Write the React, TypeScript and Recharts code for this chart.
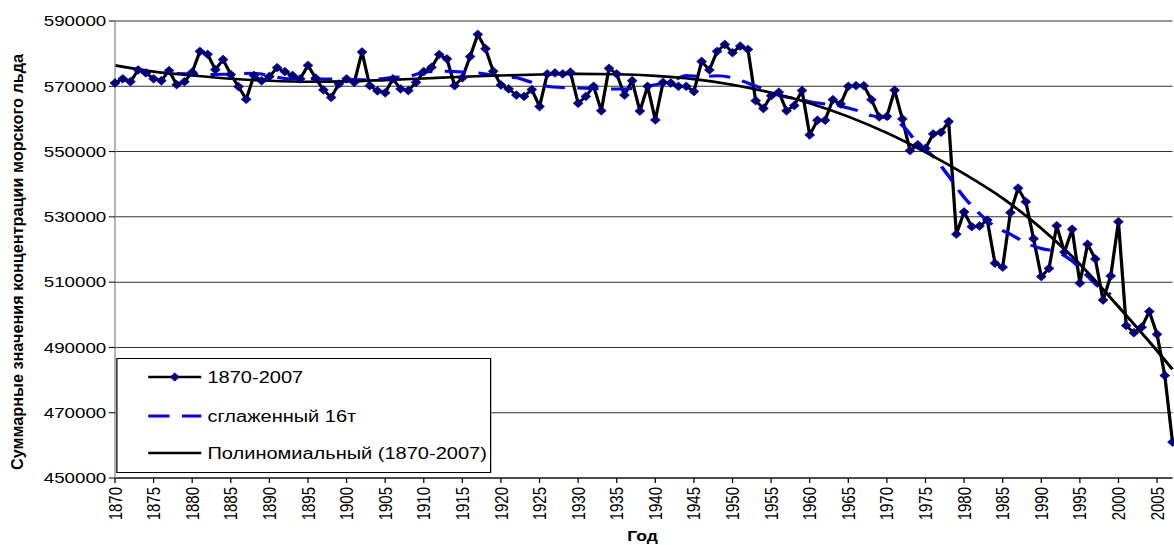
import { LineChart, Line, XAxis, YAxis, CartesianGrid } from "recharts";

// годы 1870–2007
const years: number[] = Array.from({ length: 138 }, (_, i) => 1870 + i);

// суммарные значения концентрации морского льда, 1870-2007
const seaIce: number[] = [
  571000, 572300, 571400, 575000, 574100, 572300, 571700, 574800, 570500, 571400,
  574300, 580700, 579800, 575100, 578200, 573600, 569900, 566000, 573300, 571700,
  573000, 575700, 574500, 573300, 572300, 576400, 572500, 568900, 566600, 570700,
  572300, 571200, 580500, 570200, 568600, 568000, 572300, 569200, 568700, 571200,
  574500, 575800, 579700, 578400, 570200, 572600, 579100, 585900, 581500, 574600,
  570400, 569200, 567300, 566900, 569000, 563800, 573800, 574100, 573800, 574300,
  564800, 566900, 570000, 562500, 575500, 573800, 567300, 571700, 562400, 570000,
  559700, 571200, 571000, 570000, 570000, 568400, 577600, 575000, 580700, 582800,
  580300, 582300, 581300, 565600, 563200, 567100, 568200, 562500, 564100, 568700,
  555100, 559600, 559600, 565900, 564600, 570000, 570200, 570200, 565900, 560600,
  560800, 568800, 560000, 550300, 552100, 551000, 555400, 555900, 559200, 524700,
  531500, 527000, 527200, 529000, 515800, 514600, 531300, 538800, 534600, 523300,
  511700, 514200, 527300, 519200, 526200, 509700, 521600, 517100, 504500, 511900,
  528500, 496700, 494500, 496200, 501000, 494000, 481400, 461000,
];

// сглаженный 16т
const smoothYears: number[] = [
  1878, 1880, 1882, 1884, 1886, 1888, 1890, 1892, 1894, 1896, 1898, 1900, 1902, 1904,
  1906, 1908, 1910, 1912, 1914, 1916, 1918, 1920, 1922, 1924, 1926, 1928, 1930, 1932,
  1934, 1936, 1938, 1940, 1942, 1944, 1946, 1948, 1950, 1952, 1954, 1956, 1958, 1960,
  1962, 1964, 1966, 1968, 1970, 1972, 1974, 1976, 1978, 1980, 1982, 1984, 1986, 1988,
  1990, 1992, 1994, 1996, 1998, 1999,
];
const smoothValues: number[] = [
  573900, 573800, 573600, 573700, 573900, 574000, 573300, 572400, 572200, 572200, 572200, 572100, 572000, 572200,
  572700, 573000, 574300, 574600, 574500, 574300, 573800, 573000, 572600, 571200, 570000, 569600, 569500, 569300,
  569200, 569200, 569600, 570500, 571300, 573300, 573000, 573200, 572600, 571000, 569200, 567200, 566300, 565300,
  564600, 563900, 562700, 561000, 560300, 558000, 552500, 548500, 542500, 536000, 531000, 527000, 524700, 522000,
  520300, 519300, 516500, 511800, 507500, 506200,
];

// Полиномиальный (1870-2007), точки
const trendYears: number[] = [
  1870, 1875, 1880, 1885, 1890, 1895, 1900, 1905, 1910, 1915, 1920, 1925, 1930, 1935,
  1940, 1945, 1950, 1955, 1960, 1965, 1970, 1975, 1980, 1985, 1990, 1995, 2000, 2005, 2007,
];
const trendValues: number[] = [
  576400, 574500, 573300, 572300, 571700, 571400, 571500, 571900, 572400, 572900, 573300, 573600, 573800, 573700,
  573200, 572200, 570500, 568000, 564800, 560700, 555700, 549800, 543200, 535700, 526500, 515500, 502500, 489000, 483300,
];

const xTicks: number[] = [
  1870, 1875, 1880, 1885, 1890, 1895, 1900, 1905, 1910, 1915, 1920, 1925, 1930, 1935,
  1940, 1945, 1950, 1955, 1960, 1965, 1970, 1975, 1980, 1985, 1990, 1995, 2000, 2005,
];
const yTicks: number[] = [450000, 470000, 490000, 510000, 530000, 550000, 570000, 590000];

const data = years.map((year, i) => {
  const s = smoothYears.indexOf(year);
  const t = trendYears.indexOf(year);
  return {
    year,
    ice: seaIce[i],
    smooth: s >= 0 ? smoothValues[s] : null,
    trend: t >= 0 ? trendValues[t] : null,
  };
});

const FONT = "'Liberation Sans', Arial, sans-serif";
const SX = 1.25; // исходная картинка растянута по горизонтали
const W = 940;
const H = 545;

const Diamond = (props: any) => {
  const { cx, cy, index } = props;
  if (cx == null || cy == null) return <g key={index} />;
  return (
    <polygon
      key={index}
      points={`${cx},${cy - 4.4} ${cx + 4},${cy} ${cx},${cy + 4.4} ${cx - 4},${cy}`}
      fill="#000080"
      stroke="#000080"
      strokeWidth={0.5}
    />
  );
};

const XTick = (props: any) => {
  const { x, y, payload } = props;
  return (
    <text
      x={x}
      y={y}
      transform={`rotate(-90 ${x} ${y})`}
      textAnchor="end"
      dy="0.35em"
      fontSize={15}
      fontFamily={FONT}
      fill="#000"
    >
      {payload.value}
    </text>
  );
};

const App = () => {
  return (
    <div
      style={{
        position: "absolute",
        left: 0,
        top: 0,
        width: 1174,
        height: 545,
        overflow: "hidden",
        background: "#fff",
      }}
    >
      <div
        style={{
          position: "absolute",
          left: 0,
          top: 0,
          width: W,
          height: H,
          transform: `scaleX(${SX})`,
          transformOrigin: "0 0",
        }}
      >
        <LineChart width={W} height={H} data={data} margin={{ top: 21, right: 2, bottom: 17, left: 12 }}>
          <CartesianGrid vertical={false} stroke="#333" />
          <XAxis
            dataKey="year"
            type="number"
            domain={[1870, 2007]}
            ticks={xTicks}
            interval={0}
            height={50}
            tickSize={5}
            tickMargin={4}
            axisLine={{ stroke: "#000" }}
            tickLine={{ stroke: "#000" }}
            tick={<XTick />}
          />
          <YAxis
            domain={[450000, 590000]}
            ticks={yTicks}
            interval={0}
            width={80}
            tickSize={5}
            tickMargin={2}
            axisLine={{ stroke: "#888" }}
            tickLine={{ stroke: "#000" }}
            tick={{ fontSize: 15, fill: "#000", fontFamily: FONT }}
          />
          <Line
            dataKey="ice"
            type="linear"
            stroke="#000"
            strokeWidth={2.6}
            dot={Diamond}
            activeDot={false}
            isAnimationActive={false}
          />
          <Line
            dataKey="smooth"
            type="monotone"
            stroke="#0000ff"
            strokeWidth={3}
            strokeDasharray="17 10"
            dot={false}
            activeDot={false}
            connectNulls
            isAnimationActive={false}
          />
          <Line
            dataKey="trend"
            type="monotone"
            stroke="#000"
            strokeWidth={2.6}
            dot={false}
            activeDot={false}
            connectNulls
            isAnimationActive={false}
          />
        </LineChart>

        <svg
          width={W}
          height={H}
          style={{ position: "absolute", left: 0, top: 0, pointerEvents: "none" }}
        >
          <text
            x={13.6}
            y={262}
            transform="rotate(-90 13.6 262)"
            textAnchor="middle"
            dy="0.35em"
            fontSize={13}
            fontWeight="bold"
            fontFamily={FONT}
            textLength={416}
            lengthAdjust="spacingAndGlyphs"
          >
            Суммарные значения концентрации морского льда
          </text>
          <text
            x={514}
            y={541}
            textAnchor="middle"
            fontSize={14}
            fontWeight="bold"
            fontFamily={FONT}
          >
            Год
          </text>
        </svg>

        <div
          style={{
            position: "absolute",
            left: 92.8,
            top: 358,
            width: 300,
            height: 115,
            boxSizing: "border-box",
            border: "1px solid #000",
            background: "#fff",
            fontFamily: FONT,
            fontSize: 16,
            zIndex: 2,
          }}
        >
          <svg width={300} height={115} style={{ position: "absolute", left: -1, top: -1 }}>
            <line x1={25.6} x2={68} y1={19} y2={19} stroke="#000" strokeWidth={2.6} />
            <polygon points="46.8,14.6 50.8,19 46.8,23.4 42.8,19" fill="#000080" />
            <line x1={25.6} x2={68} y1={58} y2={58} stroke="#0000ff" strokeWidth={3} strokeDasharray="17 10" />
            <line x1={25.6} x2={68} y1={95} y2={95} stroke="#000" strokeWidth={2.6} />
            <text x={73} y={19} dy="0.35em" fontSize={16} fontFamily={FONT}>1870-2007</text>
            <text x={73} y={58} dy="0.35em" fontSize={16} fontFamily={FONT}>сглаженный 16т</text>
            <text x={73} y={95} dy="0.35em" fontSize={16} fontFamily={FONT}>Полиномиальный (1870-2007)</text>
          </svg>
        </div>
      </div>
    </div>
  );
};

export default App;
